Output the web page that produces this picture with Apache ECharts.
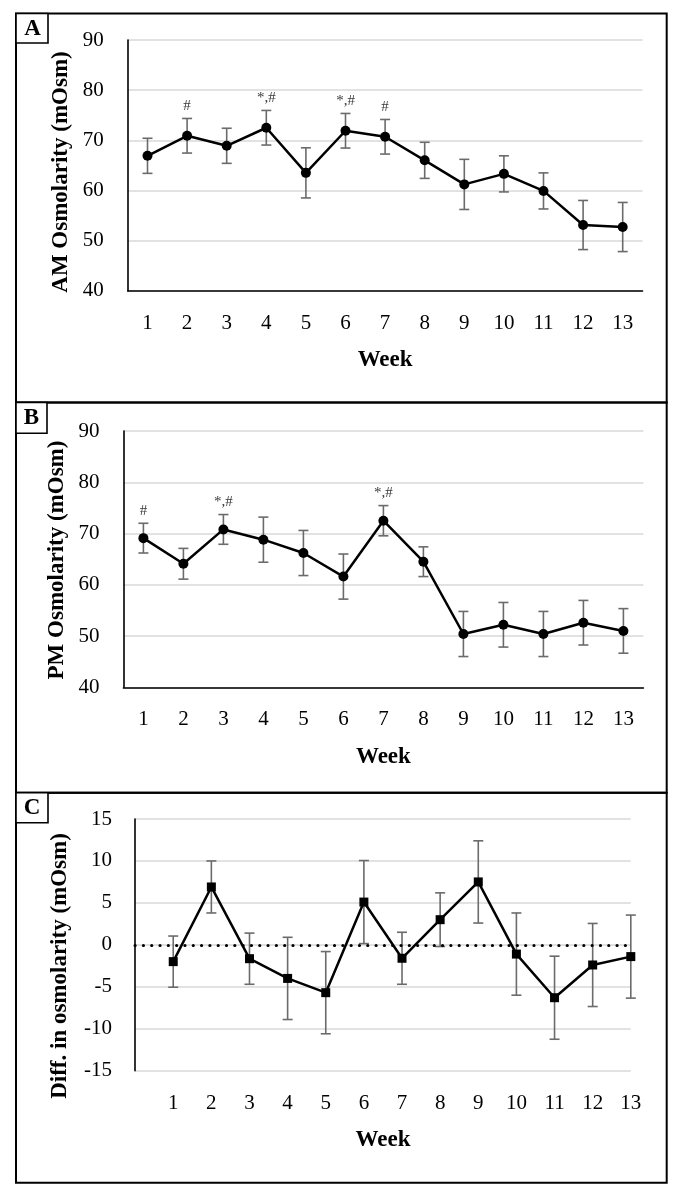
<!DOCTYPE html>
<html>
<head>
<meta charset="utf-8">
<script src="https://cdn.jsdelivr.net/npm/echarts@6/dist/echarts.min.js"></script>
<style>
  html, body { margin: 0; padding: 0; background: #fff; }
  #chart { width: 683px; height: 1200px; }
</style>
</head>
<body>
<div id="chart"></div>
<script>
// ---------- data ----------
const weeks = ['1','2','3','4','5','6','7','8','9','10','11','12','13'];
const weekNums = [1,2,3,4,5,6,7,8,9,10,11,12,13];

const amMean = [66.9, 70.9, 68.9, 72.5, 63.5, 71.9, 70.7, 66.0, 61.2, 63.3, 59.9, 53.1, 52.7];
const amErr  = [3.5, 3.45, 3.5, 3.45, 5.0, 3.45, 3.45, 3.6, 5.0, 3.6, 3.6, 4.9, 4.9];
const amNote = ['', '#', '', '*,#', '', '*,#', '#', '', '', '', '', '', ''];

const pmMean = [69.1, 64.1, 70.8, 68.8, 66.2, 61.6, 72.5, 64.5, 50.4, 52.2, 50.4, 52.6, 51.0];
const pmErr  = [2.9, 3.0, 2.9, 4.4, 4.4, 4.4, 2.95, 2.9, 4.4, 4.35, 4.4, 4.35, 4.35];
const pmNote = ['#', '', '*,#', '', '', '', '*,#', '', '', '', '', '', ''];

const diffMean = [-2.0, 6.9, -1.65, -4.0, -5.7, 5.1, -1.6, 3.0, 7.5, -1.1, -6.3, -2.4, -1.4];
const diffErr  = [3.05, 3.1, 3.05, 4.9, 4.9, 4.95, 3.1, 3.2, 4.9, 4.9, 4.95, 4.95, 4.95];
const diffRef = 0;

const yTicksAM = { min: 40, max: 90, interval: 10 };
const yTicksPM = { min: 40, max: 90, interval: 10 };
const yTicksDiff = { min: -15, max: 15, interval: 5 };

// ---------- styles ----------
const FONT = "'Liberation Serif', 'DejaVu Serif', serif";
const ERR_COLOR = '#6b6b6b';
const GRID_COLOR = '#d9d9d9';

function errRender(params, api) {
  const x = api.value(0), lo = api.value(1), hi = api.value(2);
  const top = api.coord([x, hi]);
  const bot = api.coord([x, lo]);
  const hw = 5;
  const st = { stroke: ERR_COLOR, lineWidth: 1.6 };
  return {
    type: 'group',
    children: [
      { type: 'line', shape: { x1: top[0], y1: top[1], x2: bot[0], y2: bot[1] }, style: st },
      { type: 'line', shape: { x1: top[0] - hw, y1: top[1], x2: top[0] + hw, y2: top[1] }, style: st },
      { type: 'line', shape: { x1: bot[0] - hw, y1: bot[1], x2: bot[0] + hw, y2: bot[1] }, style: st }
    ]
  };
}

function catX(gi) {
  return {
    type: 'category', gridIndex: gi, data: weeks, boundaryGap: true,
    axisLine: { show: true, lineStyle: { color: '#000', width: 1.6 } },
    axisTick: { show: false },
    axisLabel: { color: '#000', fontFamily: FONT, fontSize: 21, margin: 22 },
    splitLine: { show: false },
    name: 'Week', nameLocation: 'middle', nameGap: 58,
    nameTextStyle: { color: '#000', fontFamily: FONT, fontSize: 23, fontWeight: 'bold' }
  };
}
function valY(gi, t, margin) {
  return {
    type: 'value', gridIndex: gi, min: t.min, max: t.max, interval: t.interval,
    axisLine: { show: true, lineStyle: { color: '#000', width: 1.6 } },
    axisTick: { show: false },
    axisLabel: { color: '#000', fontFamily: FONT, fontSize: 21, margin: margin },
    splitLine: { show: true, lineStyle: { color: GRID_COLOR, width: 1.5 } }
  };
}

function errData(mean, err, xs) {
  return mean.map((m, i) => [xs ? xs[i] : i, +(m - err[i]).toFixed(2), +(m + err[i]).toFixed(2)]);
}
function noteData(mean, err, notes) {
  const out = [];
  notes.forEach((n, i) => {
    if (n) out.push({ value: [i, mean[i] + err[i]], label: { formatter: n } });
  });
  return out;
}

const option = {
  animation: false,
  backgroundColor: '#fff',
  grid: [
    { left: 127.7, top: 40, width: 514.8, height: 250.7, containLabel: false, outerBoundsMode: 'none' },
    { left: 123.4, top: 431, width: 520, height: 256.3, containLabel: false, outerBoundsMode: 'none' },
    { left: 135.1, top: 819, width: 495.7, height: 251.7, containLabel: false, outerBoundsMode: 'none' }
  ],
  xAxis: [
    catX(0),
    catX(1),
    {
      type: 'value', gridIndex: 2, min: 0, max: 13, interval: 1,
      axisLine: { show: false },
      axisTick: { show: false },
      axisLabel: { color: '#000', fontFamily: FONT, fontSize: 21, margin: 22,
        formatter: v => (v === 0 ? '' : String(v)) },
      splitLine: { show: false },
      name: 'Week', nameLocation: 'middle', nameGap: 58,
      nameTextStyle: { color: '#000', fontFamily: FONT, fontSize: 23, fontWeight: 'bold' }
    }
  ],
  yAxis: [
    valY(0, yTicksAM, 24),
    valY(1, yTicksPM, 24),
    valY(2, yTicksDiff, 23)
  ],
  series: [
    // Panel A
    { type: 'custom', xAxisIndex: 0, yAxisIndex: 0, renderItem: errRender,
      encode: { x: 0, y: [1, 2] }, data: errData(amMean, amErr), z: 2 },
    { type: 'line', xAxisIndex: 0, yAxisIndex: 0, data: amMean, symbol: 'circle', symbolSize: 10,
      itemStyle: { color: '#000' }, lineStyle: { color: '#000', width: 2.5 }, z: 3 },
    { type: 'scatter', xAxisIndex: 0, yAxisIndex: 0, symbolSize: 0, data: noteData(amMean, amErr, amNote),
      label: { show: true, position: 'top', distance: 5, color: '#000', fontFamily: FONT, fontSize: 15 }, z: 4 },
    // Panel B
    { type: 'custom', xAxisIndex: 1, yAxisIndex: 1, renderItem: errRender,
      encode: { x: 0, y: [1, 2] }, data: errData(pmMean, pmErr), z: 2 },
    { type: 'line', xAxisIndex: 1, yAxisIndex: 1, data: pmMean, symbol: 'circle', symbolSize: 10,
      itemStyle: { color: '#000' }, lineStyle: { color: '#000', width: 2.5 }, z: 3 },
    { type: 'scatter', xAxisIndex: 1, yAxisIndex: 1, symbolSize: 0, data: noteData(pmMean, pmErr, pmNote),
      label: { show: true, position: 'top', distance: 5, color: '#000', fontFamily: FONT, fontSize: 15 }, z: 4 },
    // Panel C
    { type: 'custom', xAxisIndex: 2, yAxisIndex: 2, renderItem: errRender,
      encode: { x: 0, y: [1, 2] }, data: errData(diffMean, diffErr, weekNums), z: 2 },
    { type: 'line', xAxisIndex: 2, yAxisIndex: 2, data: diffMean.map((v, i) => [weekNums[i], v]),
      symbol: 'rect', symbolSize: 9,
      itemStyle: { color: '#000' }, lineStyle: { color: '#000', width: 2.5 }, z: 3,
      markLine: {
        silent: true, symbol: 'none', label: { show: false },
        lineStyle: { color: '#000', width: 3.2, type: [0.01, 8.3], cap: 'round' },
        data: [{ yAxis: diffRef }]
      }
    }
  ],
  graphic: [
    // panel borders
    { type: 'rect', shape: { x: 16, y: 13.5, width: 650.7, height: 389 }, style: { fill: 'none', stroke: '#000', lineWidth: 2 }, z: 10 },
    { type: 'rect', shape: { x: 16, y: 402.5, width: 650.7, height: 390.2 }, style: { fill: 'none', stroke: '#000', lineWidth: 2 }, z: 10 },
    { type: 'rect', shape: { x: 16, y: 792.7, width: 650.7, height: 390 }, style: { fill: 'none', stroke: '#000', lineWidth: 2 }, z: 10 },
    // panel letter boxes
    { type: 'rect', shape: { x: 16, y: 13.5, width: 32, height: 29.5 }, style: { fill: '#fff', stroke: '#000', lineWidth: 1.6 }, z: 11 },
    { type: 'rect', shape: { x: 16, y: 402.5, width: 31, height: 30.8 }, style: { fill: '#fff', stroke: '#000', lineWidth: 1.6 }, z: 11 },
    { type: 'rect', shape: { x: 16, y: 792.7, width: 32, height: 30 }, style: { fill: '#fff', stroke: '#000', lineWidth: 1.6 }, z: 11 },
    { type: 'text', x: 32.5, y: 29, style: { text: 'A', font: "bold 23px 'Liberation Serif', serif", fill: '#000', textAlign: 'center', textVerticalAlign: 'middle' }, z: 12 },
    { type: 'text', x: 31.5, y: 418, style: { text: 'B', font: "bold 23px 'Liberation Serif', serif", fill: '#000', textAlign: 'center', textVerticalAlign: 'middle' }, z: 12 },
    { type: 'text', x: 32, y: 808, style: { text: 'C', font: "bold 23px 'Liberation Serif', serif", fill: '#000', textAlign: 'center', textVerticalAlign: 'middle' }, z: 12 },
    // y-axis titles
    { type: 'text', x: 61, y: 172, rotation: Math.PI / 2, style: { text: 'AM Osmolarity (mOsm)', font: "bold 23px 'Liberation Serif', serif", fill: '#000', textAlign: 'center', textVerticalAlign: 'middle' }, z: 12 },
    { type: 'text', x: 57, y: 560, rotation: Math.PI / 2, style: { text: 'PM Osmolarity (mOsm)', font: "bold 23px 'Liberation Serif', serif", fill: '#000', textAlign: 'center', textVerticalAlign: 'middle' }, z: 12 },
    { type: 'text', x: 60, y: 966, rotation: Math.PI / 2, style: { text: 'Diff. in osmolarity (mOsm)', font: "bold 23px 'Liberation Serif', serif", fill: '#000', textAlign: 'center', textVerticalAlign: 'middle' }, z: 12 }
  ]
};

const chart = echarts.init(document.getElementById('chart'), null, { renderer: 'canvas', width: 683, height: 1200 });
chart.setOption(option);
</script>
</body>
</html>
